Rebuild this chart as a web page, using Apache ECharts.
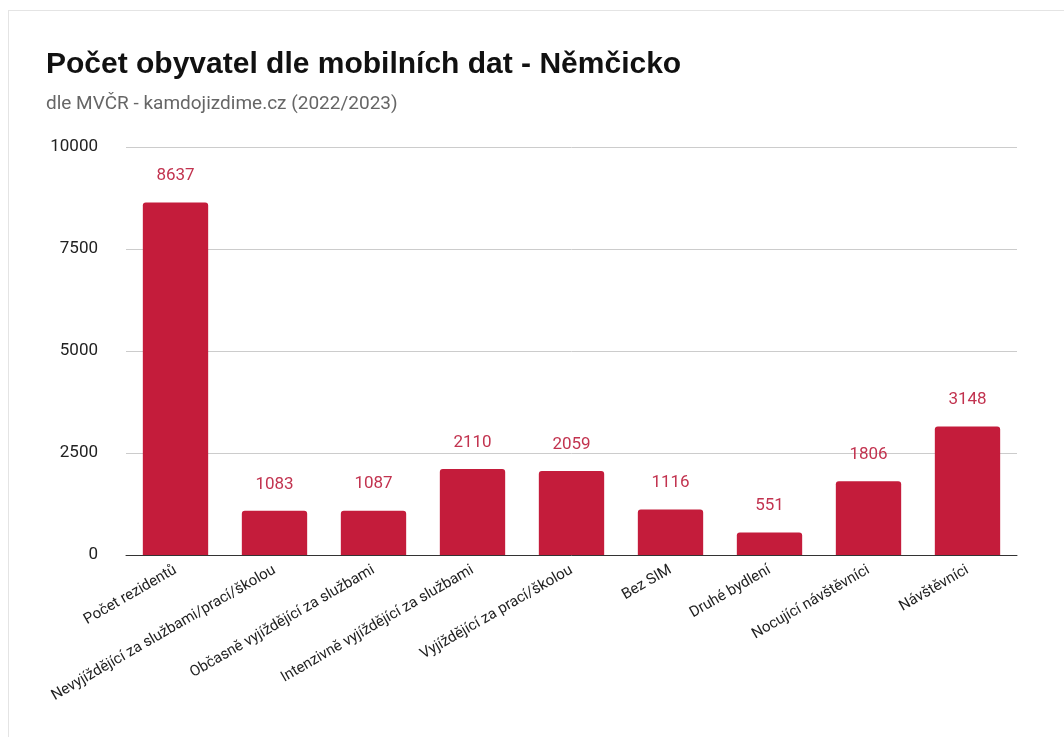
<!DOCTYPE html>
<html>
<head>
<meta charset="utf-8">
<script src="https://cdn.jsdelivr.net/npm/echarts@6/dist/echarts.min.js"></script>
<style>
    html, body { margin: 0; padding: 0; background: #fff; }
    #frame {
        position: absolute; left: 8px; top: 10px; width: 1070px; height: 740px;
        border: 1px solid #e4e4e4; box-sizing: border-box;
    }
    #chart { position: absolute; left: 0; top: 0; width: 1064px; height: 737px; }
</style>
</head>
<body>
<div id="frame"></div>
<div id="chart"></div>
<script>
const categories = [
    "Počet rezidentů",
    "Nevyjíždějící za službami/prací/školou",
    "Občasně vyjíždějící za službami",
    "Intenzivně vyjíždějící za službami",
    "Vyjíždějící za prací/školou",
    "Bez SIM",
    "Druhé bydlení",
    "Nocující návštěvníci",
    "Návštěvníci"
]
const values = [8637, 1083, 1087, 2110, 2059, 1116, 551, 1806, 3148]
const yTicks = [0, 2500, 5000, 7500, 10000]

var chart = echarts.init(document.getElementById("chart"))

var option = {
    animation: false,
    title: {
        text: "Počet obyvatel dle mobilních dat - Němčicko",
        subtext: "dle MVČR - kamdojizdime.cz (2022/2023)",
        left: 41,
        top: 45,
        itemGap: 15,
        textStyle: {
            fontFamily: "Liberation Sans",
            fontWeight: "bold",
            fontSize: 30,
            color: "#111",
        },
        subtextStyle: {
            fontFamily: "Roboto",
            fontSize: 19,
            color: "#666",
        },
    },
    grid: {
        left: 126,
        right: 47,
        top: 147,
        bottom: 182,
    },
    xAxis: {
        type: "category",
        data: categories,
        axisTick: { show: false },
        axisLine: { lineStyle: { color: "#333", width: 1 } },
        axisLabel: {
            rotate: 30,
            interval: 0,
            margin: 14,
            fontFamily: "Roboto",
            fontSize: 15,
            color: "#222",
        },
    },
    yAxis: {
        type: "value",
        min: yTicks[0],
        max: yTicks[yTicks.length - 1],
        interval: 2500,
        axisLabel: {
            fontFamily: "Roboto",
            fontSize: 17,
            color: "#222",
            margin: 28,
            formatter: function (value) {
                return String(value)
            },
        },
        splitLine: { lineStyle: { color: "#ccc" } },
    },
    series: [
        {
            type: "bar",
            data: values,
            barWidth: "66%",
            itemStyle: {
                color: "#c41c3b",
                borderRadius: [3, 3, 0, 0],
            },
            label: {
                show: true,
                position: "top",
                distance: 18,
                fontFamily: "Roboto",
                fontSize: 17,
                color: "#c2334f",
            },
        },
    ],
}

chart.setOption(option)
</script>
</body>
</html>
